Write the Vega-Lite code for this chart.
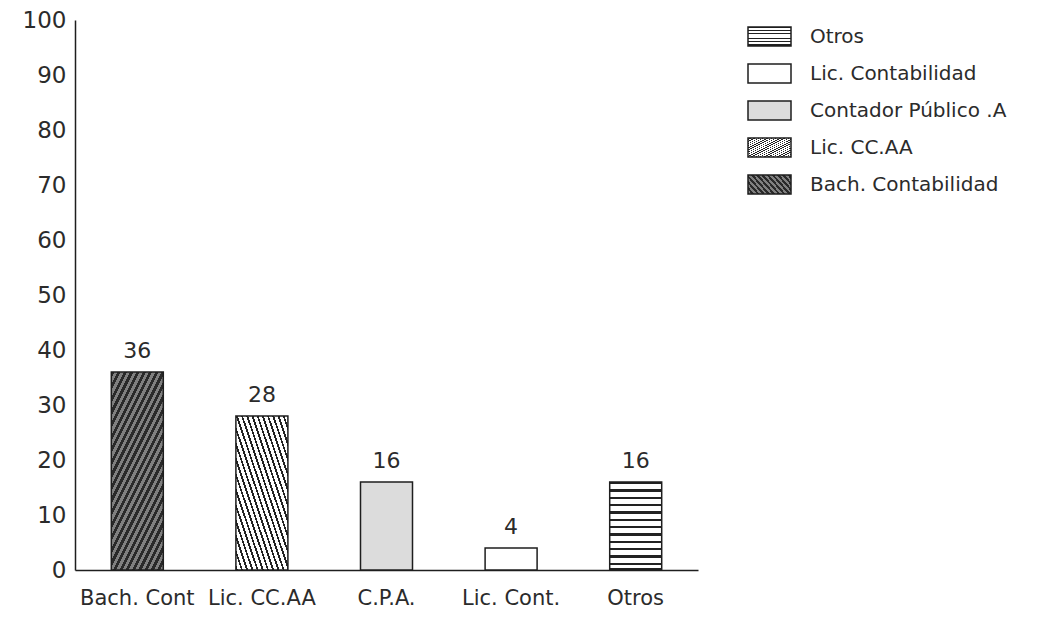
{
  "$schema": "https://vega.github.io/schema/vega-lite/v6.json",
  "width": 623,
  "height": 550,
  "autosize": {"type": "none"},
  "padding": {"left": 75, "top": 20, "right": 365, "bottom": 47},
  "background": "white",
  "config": {
    "view": {"stroke": null},
    "font": "DejaVu Sans",
    "text": {"font": "DejaVu Sans"},
    "axis": {"title": null, "ticks": false, "grid": false, "domainColor": "#1e1e1e", "domainWidth": 1.5, "labelColor": "#2b2b2b", "labelFont": "DejaVu Sans"}
  },
  "data": {
    "values": [
      {"cat": "Bach. Cont", "serie": "Bach. Contabilidad", "valor": 36},
      {"cat": "Lic. CC.AA", "serie": "Lic. CC.AA", "valor": 28},
      {"cat": "C.P.A.", "serie": "Contador Público .A", "valor": 16},
      {"cat": "Lic. Cont.", "serie": "Lic. Contabilidad", "valor": 4},
      {"cat": "Otros", "serie": "Otros", "valor": 16}
    ]
  },
  "encoding": {
    "x": {
      "field": "cat", "type": "nominal", "sort": null,
      "scale": {"paddingInner": 0, "paddingOuter": 0},
      "axis": {"labelAngle": 0, "labelFontSize": 21, "labelPadding": 17, "labelOverlap": false}
    },
    "y": {
      "field": "valor", "type": "quantitative",
      "scale": {"domain": [0, 100]},
      "axis": {"values": [0,10,20,30,40,50,60,70,80,90,100], "labelFontSize": 23, "labelPadding": 9}
    }
  },
  "layer": [
    {
      "mark": {"type": "bar", "stroke": "#1e1e1e", "strokeWidth": 1.5, "size": 52},
      "encoding": {
        "fill": {
          "field": "serie", "type": "nominal",
          "scale": {
            "domain": ["Otros", "Lic. Contabilidad", "Contador Público .A", "Lic. CC.AA", "Bach. Contabilidad"],
            "range": [
              {"expr": "{gradient:'linear',x1:0,y1:0,x2:0,y2:1,stops:[{offset:0,color:'#222'},{offset:0.025,color:'#222'},{offset:0.025,color:'#fff'},{offset:0.0833,color:'#fff'},{offset:0.0833,color:'#222'},{offset:0.1083,color:'#222'},{offset:0.1083,color:'#fff'},{offset:0.1667,color:'#fff'},{offset:0.1667,color:'#222'},{offset:0.1917,color:'#222'},{offset:0.1917,color:'#fff'},{offset:0.25,color:'#fff'},{offset:0.25,color:'#222'},{offset:0.275,color:'#222'},{offset:0.275,color:'#fff'},{offset:0.3333,color:'#fff'},{offset:0.3333,color:'#222'},{offset:0.3583,color:'#222'},{offset:0.3583,color:'#fff'},{offset:0.4167,color:'#fff'},{offset:0.4167,color:'#222'},{offset:0.4417,color:'#222'},{offset:0.4417,color:'#fff'},{offset:0.5,color:'#fff'},{offset:0.5,color:'#222'},{offset:0.525,color:'#222'},{offset:0.525,color:'#fff'},{offset:0.5833,color:'#fff'},{offset:0.5833,color:'#222'},{offset:0.6083,color:'#222'},{offset:0.6083,color:'#fff'},{offset:0.6667,color:'#fff'},{offset:0.6667,color:'#222'},{offset:0.6917,color:'#222'},{offset:0.6917,color:'#fff'},{offset:0.75,color:'#fff'},{offset:0.75,color:'#222'},{offset:0.775,color:'#222'},{offset:0.775,color:'#fff'},{offset:0.8333,color:'#fff'},{offset:0.8333,color:'#222'},{offset:0.8583,color:'#222'},{offset:0.8583,color:'#fff'},{offset:0.9167,color:'#fff'},{offset:0.9167,color:'#222'},{offset:0.9417,color:'#222'},{offset:0.9417,color:'#fff'},{offset:0.975,color:'#fff'},{offset:0.975,color:'#222'},{offset:1,color:'#222'}]}"},
              "#ffffff",
              "#dcdcdc",
              {"expr": "{gradient:'linear',x1:0,y1:1,x2:1,y2:0,stops:[{offset:0,color:'#222'},{offset:0.018,color:'#222'},{offset:0.018,color:'#fff'},{offset:0.05,color:'#fff'},{offset:0.05,color:'#222'},{offset:0.068,color:'#222'},{offset:0.068,color:'#fff'},{offset:0.1,color:'#fff'},{offset:0.1,color:'#222'},{offset:0.118,color:'#222'},{offset:0.118,color:'#fff'},{offset:0.15,color:'#fff'},{offset:0.15,color:'#222'},{offset:0.168,color:'#222'},{offset:0.168,color:'#fff'},{offset:0.2,color:'#fff'},{offset:0.2,color:'#222'},{offset:0.218,color:'#222'},{offset:0.218,color:'#fff'},{offset:0.25,color:'#fff'},{offset:0.25,color:'#222'},{offset:0.268,color:'#222'},{offset:0.268,color:'#fff'},{offset:0.3,color:'#fff'},{offset:0.3,color:'#222'},{offset:0.318,color:'#222'},{offset:0.318,color:'#fff'},{offset:0.35,color:'#fff'},{offset:0.35,color:'#222'},{offset:0.368,color:'#222'},{offset:0.368,color:'#fff'},{offset:0.4,color:'#fff'},{offset:0.4,color:'#222'},{offset:0.418,color:'#222'},{offset:0.418,color:'#fff'},{offset:0.45,color:'#fff'},{offset:0.45,color:'#222'},{offset:0.468,color:'#222'},{offset:0.468,color:'#fff'},{offset:0.5,color:'#fff'},{offset:0.5,color:'#222'},{offset:0.518,color:'#222'},{offset:0.518,color:'#fff'},{offset:0.55,color:'#fff'},{offset:0.55,color:'#222'},{offset:0.568,color:'#222'},{offset:0.568,color:'#fff'},{offset:0.6,color:'#fff'},{offset:0.6,color:'#222'},{offset:0.618,color:'#222'},{offset:0.618,color:'#fff'},{offset:0.65,color:'#fff'},{offset:0.65,color:'#222'},{offset:0.668,color:'#222'},{offset:0.668,color:'#fff'},{offset:0.7,color:'#fff'},{offset:0.7,color:'#222'},{offset:0.718,color:'#222'},{offset:0.718,color:'#fff'},{offset:0.75,color:'#fff'},{offset:0.75,color:'#222'},{offset:0.768,color:'#222'},{offset:0.768,color:'#fff'},{offset:0.8,color:'#fff'},{offset:0.8,color:'#222'},{offset:0.818,color:'#222'},{offset:0.818,color:'#fff'},{offset:0.85,color:'#fff'},{offset:0.85,color:'#222'},{offset:0.868,color:'#222'},{offset:0.868,color:'#fff'},{offset:0.9,color:'#fff'},{offset:0.9,color:'#222'},{offset:0.918,color:'#222'},{offset:0.918,color:'#fff'},{offset:0.95,color:'#fff'},{offset:0.95,color:'#222'},{offset:0.968,color:'#222'},{offset:0.968,color:'#fff'},{offset:1,color:'#fff'}]}"},
              {"expr": "{gradient:'linear',x1:0,y1:0,x2:0.628,y2:1.1955,stops:[{offset:0,color:'#2a2a2a'},{offset:0.0208,color:'#2a2a2a'},{offset:0.0208,color:'#808080'},{offset:0.0417,color:'#808080'},{offset:0.0417,color:'#2a2a2a'},{offset:0.0625,color:'#2a2a2a'},{offset:0.0625,color:'#808080'},{offset:0.0833,color:'#808080'},{offset:0.0833,color:'#2a2a2a'},{offset:0.1042,color:'#2a2a2a'},{offset:0.1042,color:'#808080'},{offset:0.125,color:'#808080'},{offset:0.125,color:'#2a2a2a'},{offset:0.1458,color:'#2a2a2a'},{offset:0.1458,color:'#808080'},{offset:0.1667,color:'#808080'},{offset:0.1667,color:'#2a2a2a'},{offset:0.1875,color:'#2a2a2a'},{offset:0.1875,color:'#808080'},{offset:0.2083,color:'#808080'},{offset:0.2083,color:'#2a2a2a'},{offset:0.2292,color:'#2a2a2a'},{offset:0.2292,color:'#808080'},{offset:0.25,color:'#808080'},{offset:0.25,color:'#2a2a2a'},{offset:0.2708,color:'#2a2a2a'},{offset:0.2708,color:'#808080'},{offset:0.2917,color:'#808080'},{offset:0.2917,color:'#2a2a2a'},{offset:0.3125,color:'#2a2a2a'},{offset:0.3125,color:'#808080'},{offset:0.3333,color:'#808080'},{offset:0.3333,color:'#2a2a2a'},{offset:0.3542,color:'#2a2a2a'},{offset:0.3542,color:'#808080'},{offset:0.375,color:'#808080'},{offset:0.375,color:'#2a2a2a'},{offset:0.3958,color:'#2a2a2a'},{offset:0.3958,color:'#808080'},{offset:0.4167,color:'#808080'},{offset:0.4167,color:'#2a2a2a'},{offset:0.4375,color:'#2a2a2a'},{offset:0.4375,color:'#808080'},{offset:0.4583,color:'#808080'},{offset:0.4583,color:'#2a2a2a'},{offset:0.4792,color:'#2a2a2a'},{offset:0.4792,color:'#808080'},{offset:0.5,color:'#808080'},{offset:0.5,color:'#2a2a2a'},{offset:0.5208,color:'#2a2a2a'},{offset:0.5208,color:'#808080'},{offset:0.5417,color:'#808080'},{offset:0.5417,color:'#2a2a2a'},{offset:0.5625,color:'#2a2a2a'},{offset:0.5625,color:'#808080'},{offset:0.5833,color:'#808080'},{offset:0.5833,color:'#2a2a2a'},{offset:0.6042,color:'#2a2a2a'},{offset:0.6042,color:'#808080'},{offset:0.625,color:'#808080'},{offset:0.625,color:'#2a2a2a'},{offset:0.6458,color:'#2a2a2a'},{offset:0.6458,color:'#808080'},{offset:0.6667,color:'#808080'},{offset:0.6667,color:'#2a2a2a'},{offset:0.6875,color:'#2a2a2a'},{offset:0.6875,color:'#808080'},{offset:0.7083,color:'#808080'},{offset:0.7083,color:'#2a2a2a'},{offset:0.7292,color:'#2a2a2a'},{offset:0.7292,color:'#808080'},{offset:0.75,color:'#808080'},{offset:0.75,color:'#2a2a2a'},{offset:0.7708,color:'#2a2a2a'},{offset:0.7708,color:'#808080'},{offset:0.7917,color:'#808080'},{offset:0.7917,color:'#2a2a2a'},{offset:0.8125,color:'#2a2a2a'},{offset:0.8125,color:'#808080'},{offset:0.8333,color:'#808080'},{offset:0.8333,color:'#2a2a2a'},{offset:0.8542,color:'#2a2a2a'},{offset:0.8542,color:'#808080'},{offset:0.875,color:'#808080'},{offset:0.875,color:'#2a2a2a'},{offset:0.8958,color:'#2a2a2a'},{offset:0.8958,color:'#808080'},{offset:0.9167,color:'#808080'},{offset:0.9167,color:'#2a2a2a'},{offset:0.9375,color:'#2a2a2a'},{offset:0.9375,color:'#808080'},{offset:0.9583,color:'#808080'},{offset:0.9583,color:'#2a2a2a'},{offset:0.9792,color:'#2a2a2a'},{offset:0.9792,color:'#808080'},{offset:1,color:'#808080'}]}"}
            ]
          },
          "legend": {
            "title": null, "orient": "none", "legendX": 672, "legendY": -6,
            "symbolType": "M-1,-0.44H1V0.44H-1Z", "symbolSize": 1849,
            "symbolStrokeColor": "#1e1e1e", "symbolStrokeWidth": 1.5, "symbolOpacity": 1,
            "labelFontSize": 20, "labelColor": "#2b2b2b", "labelFont": "DejaVu Sans", "labelOffset": 18, "rowPadding": 2, "labelLimit": 400
          }
        }
      }
    },
    {
      "mark": {"type": "text", "baseline": "bottom", "dy": -9, "fontSize": 22, "color": "#2b2b2b"},
      "encoding": {
        "text": {"field": "valor", "type": "quantitative"}
      }
    }
  ]
}
